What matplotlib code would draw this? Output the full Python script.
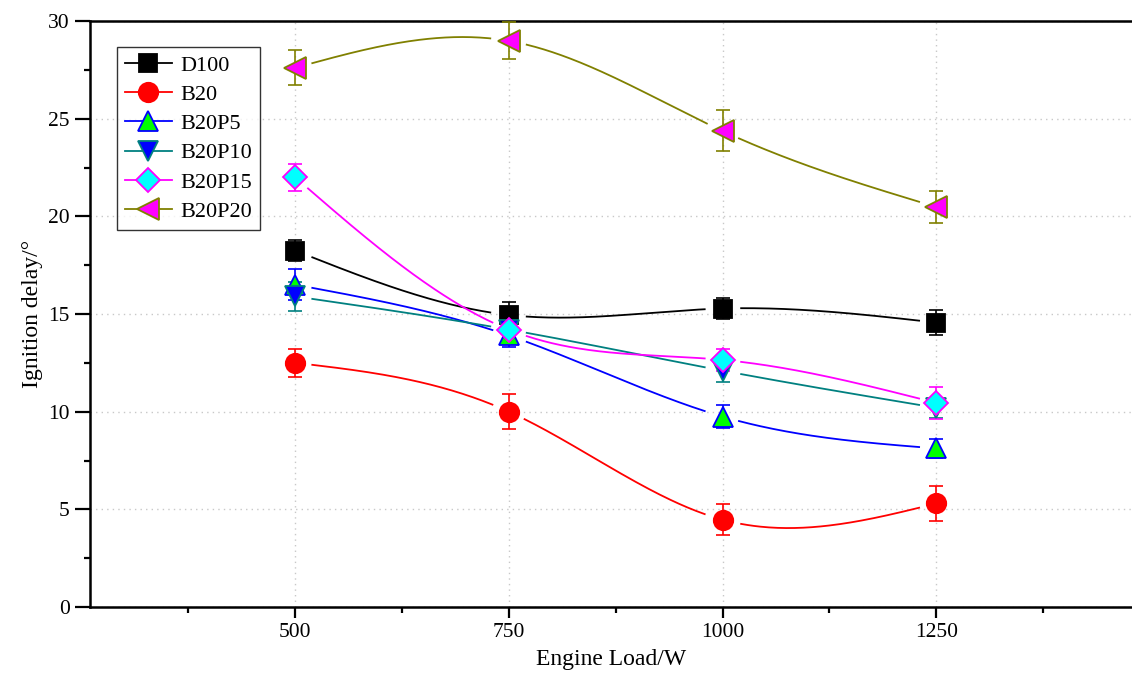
import numpy as np
import matplotlib
matplotlib.use('Agg')
import matplotlib.pyplot as plt
from matplotlib.ticker import MultipleLocator
from matplotlib.lines import Line2D

plt.rcParams['font.family'] = ['Liberation Serif', 'DejaVu Serif']

# data
loads = [500, 750, 1000, 1250]
names = ["D100", "B20", "B20P5", "B20P10", "B20P15", "B20P20"]
d100 = [18.25, 14.95, 15.28, 14.56]
d100_err = [0.55, 0.65, 0.55, 0.65]
b20 = [12.5, 10.0, 4.47, 5.3]
b20_err = [0.7, 0.9, 0.8, 0.9]
b20p5 = [16.5, 13.9, 9.75, 8.12]
b20p5_err = [0.8, 0.6, 0.6, 0.5]
b20p10 = [15.9, 14.2, 12.1, 10.2]
b20p10_err = [0.75, 0.6, 0.6, 0.5]
b20p15 = [22.0, 14.2, 12.65, 10.45]
b20p15_err = [0.7, 0.6, 0.55, 0.8]
b20p20 = [27.6, 28.98, 24.37, 20.48]
b20p20_err = [0.9, 0.95, 1.05, 0.8]

series = [d100, b20, b20p5, b20p10, b20p15, b20p20]
errors = [d100_err, b20_err, b20p5_err, b20p10_err, b20p15_err, b20p20_err]

# styles
line_colors = ['black', 'red', 'blue', '#008080', '#ff00ff', '#808000']
face_colors = ['black', 'red', '#00ff00', 'blue', 'cyan', '#ff00ff']
markers = ['s', 'o', '^', 'v', 'D', '<']
msizes = [12.5, 14, 15, 15, 12.5, 16]


def natural_spline(x, y, n=300):
    x = np.asarray(x, float)
    y = np.asarray(y, float)
    k = len(x)
    h = np.diff(x)
    A = np.zeros((k, k))
    r = np.zeros(k)
    A[0, 0] = 1
    A[-1, -1] = 1
    for i in range(1, k - 1):
        A[i, i - 1] = h[i - 1]
        A[i, i] = 2 * (h[i - 1] + h[i])
        A[i, i + 1] = h[i]
        r[i] = 3 * ((y[i + 1] - y[i]) / h[i] - (y[i] - y[i - 1]) / h[i - 1])
    c = np.linalg.solve(A, r)
    xs = np.linspace(x[0], x[-1], n)
    ys = np.empty_like(xs)
    for j, xv in enumerate(xs):
        i = min(np.searchsorted(x, xv, side='right') - 1, k - 2)
        b = (y[i + 1] - y[i]) / h[i] - h[i] * (c[i + 1] + 2 * c[i]) / 3
        d = (c[i + 1] - c[i]) / (3 * h[i])
        t = xv - x[i]
        ys[j] = y[i] + b * t + c[i] * t ** 2 + d * t ** 3
    return xs, ys


fig = plt.figure(figsize=(11.32, 6.76), dpi=100)
ax = fig.add_axes([90 / 1132, 69 / 676, 1042 / 1132, 586 / 676])
ax.set_xlim(260, 1479)
ax.set_ylim(0, 30)

ax.xaxis.set_major_locator(MultipleLocator(250))
ax.xaxis.set_minor_locator(MultipleLocator(125))
ax.yaxis.set_major_locator(MultipleLocator(5))
ax.yaxis.set_minor_locator(MultipleLocator(2.5))
ax.set_xticks([500, 750, 1000, 1250])
ax.tick_params(axis='both', which='major', direction='out', length=8, width=1.6,
               labelsize=15.5)
ax.tick_params(axis='both', which='minor', direction='out', length=4, width=1.6)
ax.tick_params(axis='y', which='major', length=11)
ax.grid(True, which='major', color='#c8c8c8', linestyle=(0, (1, 3)), linewidth=1)
ax.set_axisbelow(True)
for s in ['left', 'bottom', 'top']:
    ax.spines[s].set_linewidth(1.8)
ax.spines['right'].set_visible(False)

ax.set_xlabel("Engine Load/W", fontsize=17, labelpad=5)
ax.set_ylabel("Ignition delay/°", fontsize=17, labelpad=4)

# gaps in the curves around each marker (pixels)
gap = 17
trans = ax.transData
handles = []
for vals, errs, lc, fc, mk, ms, name in zip(series, errors, line_colors,
                                            face_colors, markers, msizes, names):
    xs, ys = natural_spline(loads, vals)
    pts = trans.transform(np.column_stack([xs, ys]))
    cen = trans.transform(np.column_stack([loads, vals]))
    ys_g = ys.copy()
    for c in cen:
        dist = np.hypot(pts[:, 0] - c[0], pts[:, 1] - c[1])
        ys_g[dist < gap] = np.nan
    ax.plot(xs, ys_g, color=lc, linewidth=1.3, zorder=2)
    ax.errorbar(loads, vals, yerr=errs, fmt='none', ecolor=lc, elinewidth=1.2,
                capsize=5, capthick=1.2, zorder=3)
    ax.plot(loads, vals, linestyle='none', marker=mk, markersize=ms,
            markerfacecolor=fc, markeredgecolor=lc, markeredgewidth=1.3, zorder=4)
    handles.append(Line2D([], [], color=lc, linewidth=1.3, marker=mk,
                          markersize=ms, markerfacecolor=fc, markeredgecolor=lc,
                          markeredgewidth=1.3, label=name))

leg = ax.legend(handles=handles, loc='upper left', bbox_to_anchor=(0.026, 0.955),
                fontsize=16, frameon=True, fancybox=False, edgecolor='black',
                handlelength=2.1, borderpad=0.35, labelspacing=0.39,
                handletextpad=0.4, borderaxespad=0)
leg.get_frame().set_linewidth(1.0)

fig.savefig('out.png', dpi=100)
